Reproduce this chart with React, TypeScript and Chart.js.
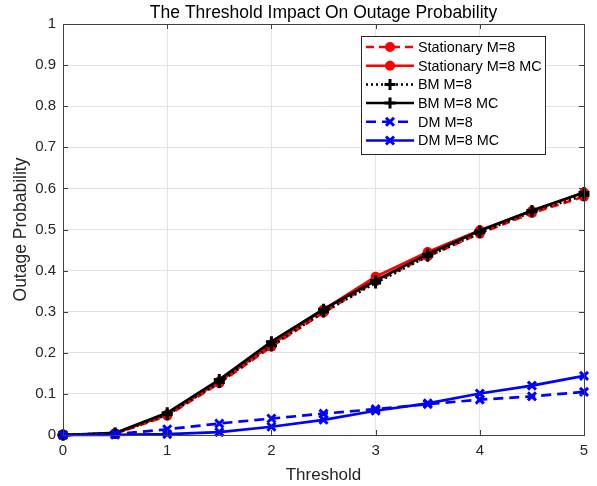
import React, { useEffect, useRef } from 'react';
import { Chart, registerables } from 'chart.js';

Chart.register(...registerables);

const thresholds = [0, 0.5, 1, 1.5, 2, 2.5, 3, 3.5, 4, 4.5, 5];
const stationaryTheory = [0, 0.003, 0.047, 0.126, 0.215, 0.298, 0.374, 0.435, 0.49, 0.54, 0.58];
const stationaryMC = [0, 0.004, 0.05, 0.13, 0.22, 0.305, 0.385, 0.445, 0.498, 0.545, 0.59];
const bmTheory = [0, 0.004, 0.049, 0.128, 0.217, 0.299, 0.37, 0.435, 0.492, 0.543, 0.583];
const bmMC = [0, 0.005, 0.054, 0.135, 0.227, 0.306, 0.376, 0.44, 0.497, 0.546, 0.59];
const dmTheory = [0, 0.002, 0.014, 0.028, 0.04, 0.052, 0.063, 0.075, 0.086, 0.094, 0.105];
const dmMC = [0, 0.0005, 0.002, 0.007, 0.02, 0.037, 0.059, 0.077, 0.101, 0.12, 0.144];

const seriesNames = ['Stationary M=8', 'Stationary M=8 MC', 'BM M=8', 'BM M=8 MC', 'DM M=8', 'DM M=8 MC'];
const seriesValues = [stationaryTheory, stationaryMC, bmTheory, bmMC, dmTheory, dmMC];
const seriesColors = ['#ff0000', '#ff0000', '#000000', '#000000', '#0000ff', '#0000ff'];
const seriesDash = [[8, 5], [], [2, 3], [], [10, 6], []];
const seriesMarker = ['circle', 'circle', 'plus', 'plus', 'x', 'x'];

const titleText = 'The Threshold Impact On Outage Probability';
const xTitle = 'Threshold';
const yTitle = 'Outage Probability';

const FONT = "'Liberation Sans', Arial, Helvetica, sans-serif";

function drawMarker(ctx: CanvasRenderingContext2D, kind: string, x: number, y: number, color: string) {
  ctx.save();
  ctx.setLineDash([]);
  ctx.strokeStyle = color;
  ctx.fillStyle = color;
  if (kind === 'circle') {
    ctx.beginPath();
    ctx.arc(x, y, 5, 0, Math.PI * 2);
    ctx.fill();
  } else if (kind === 'plus') {
    ctx.lineWidth = 3;
    ctx.beginPath();
    ctx.moveTo(x - 5.5, y); ctx.lineTo(x + 5.5, y);
    ctx.moveTo(x, y - 5.5); ctx.lineTo(x, y + 5.5);
    ctx.stroke();
  } else {
    ctx.lineWidth = 3;
    ctx.beginPath();
    ctx.moveTo(x - 4, y - 4); ctx.lineTo(x + 4, y + 4);
    ctx.moveTo(x + 4, y - 4); ctx.lineTo(x - 4, y + 4);
    ctx.stroke();
  }
  ctx.restore();
}

const decorPlugin = {
  id: 'decor',
  afterDatasetsDraw(chart: any) {
    const { ctx, chartArea } = chart;
    const { left, right, top, bottom } = chartArea;
    ctx.save();
    ctx.strokeStyle = '#404040';
    ctx.lineWidth = 1;
    ctx.setLineDash([]);
    ctx.strokeRect(Math.round(left) + 0.5, Math.round(top) + 0.5, Math.round(right - left), Math.round(bottom - top));
    const xs = chart.scales.x;
    const ys = chart.scales.y;
    ctx.beginPath();
    xs.ticks.forEach((t: any) => {
      const px = Math.round(xs.getPixelForValue(t.value)) + 0.5;
      ctx.moveTo(px, bottom); ctx.lineTo(px, bottom - 5);
      ctx.moveTo(px, top); ctx.lineTo(px, top + 5);
    });
    ys.ticks.forEach((t: any) => {
      const py = Math.round(ys.getPixelForValue(t.value)) + 0.5;
      ctx.moveTo(left, py); ctx.lineTo(left + 5, py);
      ctx.moveTo(right, py); ctx.lineTo(right - 5, py);
    });
    ctx.stroke();

    ctx.fillStyle = '#000';
    ctx.font = `17.5px ${FONT}`;
    ctx.textAlign = 'center';
    ctx.textBaseline = 'middle';
    ctx.fillText(titleText, (left + right) / 2, 13);

    const lx = 361, ly = 36, lw = 184, lh = 118;
    ctx.fillStyle = '#fff';
    ctx.fillRect(lx, ly, lw, lh);
    ctx.strokeStyle = '#262626';
    ctx.lineWidth = 1;
    ctx.strokeRect(lx + 0.5, ly + 0.5, lw, lh);
    ctx.font = `14.4px ${FONT}`;
    ctx.textAlign = 'left';
    ctx.textBaseline = 'middle';
    seriesNames.forEach((name, i) => {
      const y = 47 + i * 18.7;
      ctx.strokeStyle = seriesColors[i];
      ctx.lineWidth = 2.5;
      ctx.setLineDash(seriesDash[i]);
      ctx.beginPath();
      ctx.moveTo(366, y); ctx.lineTo(414, y);
      ctx.stroke();
      ctx.setLineDash([]);
      drawMarker(ctx, seriesMarker[i], 390, y, seriesColors[i]);
      ctx.fillStyle = '#000';
      ctx.fillText(name, 418, y + 1);
    });
    ctx.restore();
  },
};

const markerPlugin = {
  id: 'markers',
  afterDatasetDraw(chart: any, args: any) {
    const i = args.index;
    const meta = chart.getDatasetMeta(i);
    const ctx = chart.ctx;
    meta.data.forEach((pt: any) => {
      drawMarker(ctx, seriesMarker[i], pt.x, pt.y, seriesColors[i]);
    });
  },
};

export default function App() {
  const ref = useRef<HTMLCanvasElement>(null);
  useEffect(() => {
    document.body.style.margin = '0';
    const datasets = seriesValues.map((vals, i) => ({
      label: seriesNames[i],
      data: thresholds.map((x, j) => ({ x, y: vals[j] })),
      borderColor: seriesColors[i],
      backgroundColor: seriesColors[i],
      borderWidth: 2.7,
      borderDash: seriesDash[i],
      pointRadius: 0,
      tension: 0,
      order: 10 - i,
      clip: false as any,
    }));
    const chart = new Chart(ref.current!, {
      type: 'line',
      data: { datasets },
      options: {
        animation: false,
        responsive: false,
        maintainAspectRatio: false,
        layout: { padding: { top: 24, right: 13, left: 0, bottom: 0 } },
        plugins: { legend: { display: false }, title: { display: false }, tooltip: { enabled: false } },
        scales: {
          x: {
            type: 'linear',
            min: 0,
            max: 5,
            afterFit: (s: any) => { s.height = 51; },
            ticks: { stepSize: 1, color: '#262626', font: { family: FONT, size: 15 }, padding: 7, maxRotation: 0 },
            grid: { color: '#e3e3e3', drawTicks: false },
            border: { display: false },
            title: { display: true, text: xTitle, color: '#262626', font: { family: FONT, size: 17 }, padding: { top: 0, bottom: 0 } },
          },
          y: {
            type: 'linear',
            min: 0,
            max: 1,
            afterFit: (s: any) => { s.width = 63; },
            ticks: {
              stepSize: 0.1,
              color: '#262626',
              font: { family: FONT, size: 15 },
              padding: 7,
              callback: (v: any) => String(Math.round(Number(v) * 10) / 10),
            },
            grid: { color: '#e3e3e3', drawTicks: false },
            border: { display: false },
            title: { display: true, text: yTitle, color: '#262626', font: { family: FONT, size: 17.5 }, padding: { top: 11, bottom: 0 } },
          },
        },
      },
      plugins: [markerPlugin, decorPlugin],
    });
    return () => chart.destroy();
  }, []);
  return <canvas ref={ref} width={597} height={486} style={{ display: 'block' }} />;
}
